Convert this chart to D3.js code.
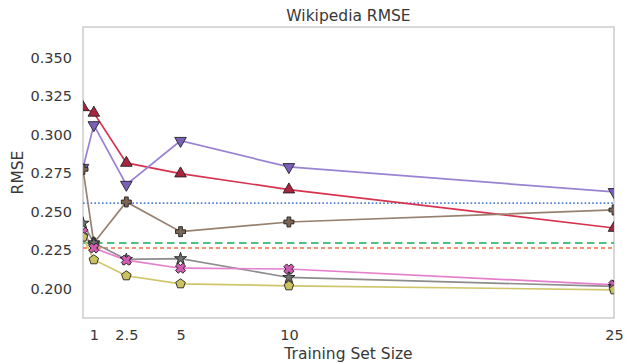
<!DOCTYPE html>
<html>
<head>
<meta charset="utf-8">
<script src="https://cdn.jsdelivr.net/npm/d3@7"></script>
<style>
  html, body { margin: 0; padding: 0; background: #fff; }
  svg { display: block; font-family: "DejaVu Sans", sans-serif; }
</style>
</head>
<body>
<svg id="chart" width="627" height="364"></svg>
<script>
// Training set sizes and RMSE per method
const sizes = [0.5, 1, 2.5, 5, 10, 25];
const xTicks = [1, 2.5, 5, 10, 25];
const xTickLabels = ["1", "2.5", "5", "10", "25"];
const yTicks = [0.200, 0.225, 0.250, 0.275, 0.300, 0.325, 0.350];

const redValues    = [0.3177, 0.3141, 0.2816, 0.2747, 0.2643, 0.2394];
const purpleValues = [0.2785, 0.3062, 0.2675, 0.2960, 0.2790, 0.2628];
const brownValues  = [0.2775, 0.2297, 0.2563, 0.2370, 0.2433, 0.2511];
const grayValues   = [0.2425, 0.2297, 0.2190, 0.2195, 0.2073, 0.2015];
const pinkValues   = [0.2365, 0.2264, 0.2185, 0.2133, 0.2128, 0.2025];
const oliveValues  = [0.2335, 0.2188, 0.2084, 0.2032, 0.2019, 0.1993];

// Constant reference levels
const blueLevel = 0.2555;
const greenLevel = 0.2296;
const orangeLevel = 0.2264;

const W = 627, H = 364;
const plot = { left: 83, right: 614, top: 27, bottom: 318 };

const svg = d3.select("#chart");

const x = d3.scaleLinear().domain([0.5, 25]).range([plot.left, plot.right]);
const y = d3.scaleLinear().domain([0.181, 0.3698]).range([plot.bottom, plot.top]);

svg.append("defs").append("clipPath").attr("id", "plotClip")
  .append("rect")
  .attr("x", plot.left).attr("y", plot.top)
  .attr("width", plot.right - plot.left).attr("height", plot.bottom - plot.top);

// Axes (labels only, no tick marks)
const textColor = "#383838";
const xAxis = d3.axisBottom(x).tickValues(xTicks)
  .tickFormat((d, i) => xTickLabels[i]).tickSize(0).tickPadding(12);
const yAxis = d3.axisLeft(y).tickValues(yTicks)
  .tickFormat(d3.format(".3f")).tickSize(0).tickPadding(11);

const gx = svg.append("g").attr("transform", `translate(0,${plot.bottom})`).call(xAxis);
const gy = svg.append("g").attr("transform", `translate(${plot.left},0)`).call(yAxis);
[gx, gy].forEach(g => {
  g.select(".domain").remove();
  g.selectAll("text").attr("fill", textColor).style("font-size", "14.5px")
    .style("font-family", "'DejaVu Sans', sans-serif");
});

// Frame
svg.append("rect")
  .attr("x", plot.left).attr("y", plot.top)
  .attr("width", plot.right - plot.left).attr("height", plot.bottom - plot.top)
  .attr("fill", "none").attr("stroke", "#cfcfcf").attr("stroke-width", 1.6);

const g = svg.append("g").attr("clip-path", "url(#plotClip)");

// Horizontal reference lines
const hlines = [
  { v: blueLevel,   color: "#4f7fd0", dash: "1.6,2.2", width: 1.6 },
  { v: greenLevel,  color: "#4cc282", dash: "7.5,4.5", width: 2 },
  { v: orangeLevel, color: "#ec7048", dash: "4,3",   width: 1.5 }
];
hlines.forEach(h => {
  g.append("line")
    .attr("x1", plot.left).attr("x2", plot.right)
    .attr("y1", y(h.v)).attr("y2", y(h.v))
    .attr("stroke", h.color).attr("stroke-width", h.width)
    .attr("stroke-dasharray", h.dash);
});

// Marker shapes
function pentagon(r) {
  const pts = d3.range(5).map(i => {
    const a = -Math.PI / 2 + i * 2 * Math.PI / 5;
    return [r * Math.cos(a), r * Math.sin(a)];
  });
  return "M" + pts.map(p => p.join(",")).join("L") + "Z";
}
function filledPlus(r) {
  const t = r * 0.38;
  return `M${-t},${-r}H${t}V${-t}H${r}V${t}H${t}V${r}H${-t}V${t}H${-r}V${-t}H${-t}Z`;
}
const shapes = {
  up:   d3.symbol().type(d3.symbolTriangle).size(58)(),
  down: d3.symbol().type(d3.symbolTriangle).size(58)(),
  plus: filledPlus(5),
  star: d3.symbol().type(d3.symbolStar).size(46)(),
  xmark: filledPlus(5.2),
  pent: pentagon(5)
};
const rotation = { up: 0, down: 180, plus: 0, star: 0, xmark: 45, pent: 0 };

const series = [
  { values: redValues,    line: "#d7334f", fill: "#a8243f", shape: "up" },
  { values: purpleValues, line: "#9a82d2", fill: "#7a60b8", shape: "down" },
  { values: brownValues,  line: "#98806f", fill: "#7d6556", shape: "plus" },
  { values: grayValues,   line: "#8c8c8c", fill: "#6f6f6f", shape: "star" },
  { values: pinkValues,   line: "#e47fcb", fill: "#d05cb2", shape: "xmark" },
  { values: oliveValues,  line: "#cfc56a", fill: "#c9c25e", shape: "pent" }
];

const lineGen = d3.line().x(d => x(d[0])).y(d => y(d[1]));

series.forEach(s => {
  const pts = sizes.map((sz, i) => [sz, s.values[i]]);
  g.append("path").datum(pts)
    .attr("d", lineGen)
    .attr("fill", "none").attr("stroke", s.line).attr("stroke-width", 1.7);
});

series.forEach(s => {
  const pts = sizes.map((sz, i) => [sz, s.values[i]]);
  g.selectAll(null).data(pts).enter().append("path")
    .attr("d", shapes[s.shape])
    .attr("transform", d => `translate(${x(d[0])},${y(d[1])}) rotate(${rotation[s.shape]})`)
    .attr("fill", s.fill).attr("stroke", "#222").attr("stroke-width", 0.9);
});

// Titles
svg.append("text")
  .attr("x", (plot.left + plot.right) / 2).attr("y", 21)
  .attr("text-anchor", "middle").attr("fill", textColor)
  .style("font-size", "15.5px").text("Wikipedia RMSE");

svg.append("text")
  .attr("x", (plot.left + plot.right) / 2).attr("y", 359)
  .attr("text-anchor", "middle").attr("fill", textColor)
  .style("font-size", "15.5px").text("Training Set Size");

svg.append("text")
  .attr("transform", `translate(23,${(plot.top + plot.bottom) / 2}) rotate(-90)`)
  .attr("text-anchor", "middle").attr("fill", textColor)
  .style("font-size", "15.5px").text("RMSE");
</script>
</body>
</html>
